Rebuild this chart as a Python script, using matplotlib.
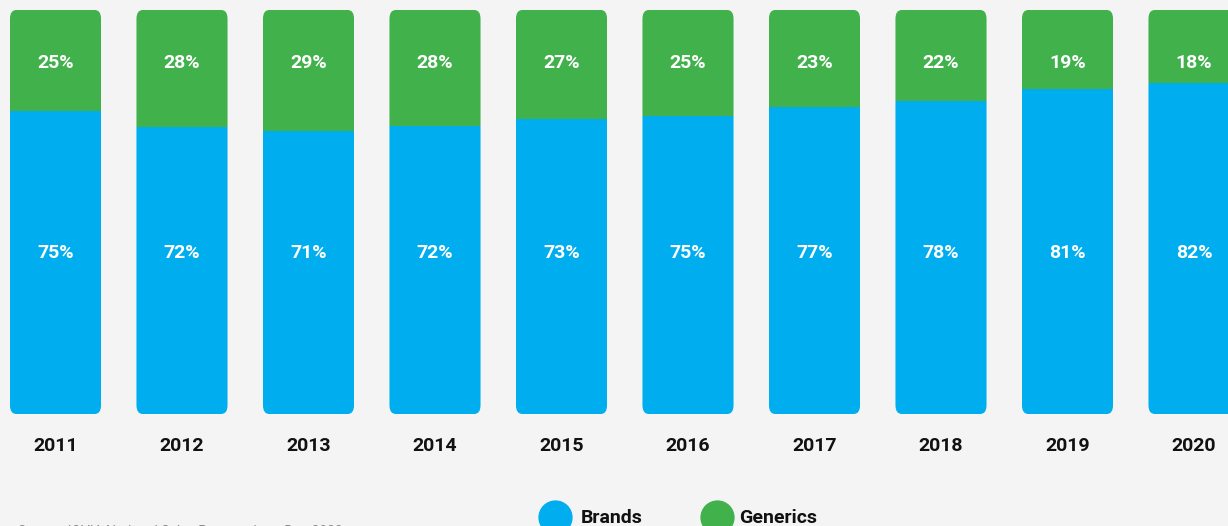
import matplotlib.pyplot as plt
from matplotlib.patches import FancyBboxPatch

years = ['2011', '2012', '2013', '2014', '2015', '2016', '2017', '2018', '2019', '2020']
# printed labels
brands_label = [75, 72, 71, 72, 73, 75, 77, 78, 81, 82]
generics_label = [25, 28, 29, 28, 27, 25, 23, 22, 19, 18]
# bar heights as drawn in the original (share of 100)
brands_share = [75.0, 71.1, 70.1, 71.4, 72.9, 73.8, 76.0, 77.4, 80.5, 81.9]
generics_share = [25.0, 28.9, 29.9, 28.6, 27.1, 26.2, 24.0, 22.6, 19.5, 18.1]

BLUE = '#00aeef'
GREEN = '#41b14c'
BG = '#f4f4f4'

plt.rcParams['font.family'] = ['Roboto', 'DejaVu Sans']

fig = plt.figure(figsize=(12.28, 5.26), dpi=100)
fig.patch.set_facecolor(BG)
ax = fig.add_axes([0, 0, 1, 1])
ax.set_facecolor(BG)
ax.axis('off')

# pixel layout: bar i centred at 55.5 + 126.5*i, bars span y 414 -> 10
ax.set_xlim(-55.5 / 126.5, (1228 - 55.5) / 126.5)
ax.set_ylim(-(526 - 414) / 4.04, 100 + 10 / 4.04)

width = 0.72
r = 0.05
ry = 2.2

x = list(range(len(years)))
blue_bars = ax.bar(x, brands_share, width=width, color=BLUE, linewidth=0)
green_bars = ax.bar(x, generics_share, width=width, bottom=brands_share,
                    color=GREEN, linewidth=0)

# clip each stacked bar to a rounded outline of the whole column
for i in x:
    b, g = brands_share[i], generics_share[i]
    x0 = i - width / 2
    outline = FancyBboxPatch((x0 + r, ry), width - 2 * r, b + g - 2 * ry,
                             boxstyle='round,pad=%f' % r, mutation_aspect=ry / r,
                             fc='none', ec='none', transform=ax.transData)
    blue_bars[i].set_clip_path(outline)
    green_bars[i].set_clip_path(outline)

    ax.text(i, 39.8, '%d%%' % brands_label[i], ha='center', va='center',
            color='white', fontsize=14, fontweight='bold')
    ax.text(i, 86.9, '%d%%' % generics_label[i], ha='center', va='center',
            color='white', fontsize=14, fontweight='bold')
    ax.text(i, -7.9, years[i], ha='center', va='center', color='#111111',
            fontsize=14, fontweight='bold')

# legend
ly = -(517 - 414) / 4.04
ax.scatter([(555 - 55.5) / 126.5], [ly], s=560, color=BLUE, clip_on=False)
ax.scatter([(717 - 55.5) / 126.5], [ly], s=560, color=GREEN, clip_on=False)
ax.text((581 - 55.5) / 126.5, ly - 0.3, 'Brands', ha='left', va='center',
        fontsize=14, fontweight='bold', color='#111111')
ax.text((739 - 55.5) / 126.5, ly - 0.3, 'Generics', ha='left', va='center',
        fontsize=14, fontweight='bold', color='#111111')

# source note, mostly below the visible area as in the original
fig.text(18 / 1228, 1 - 532 / 526, 'Source: IQVIA National Sales Perspectives, Dec 2020',
         ha='left', va='center', fontsize=10, color='#888888')

fig.savefig('out.png', dpi=100, facecolor=BG)
